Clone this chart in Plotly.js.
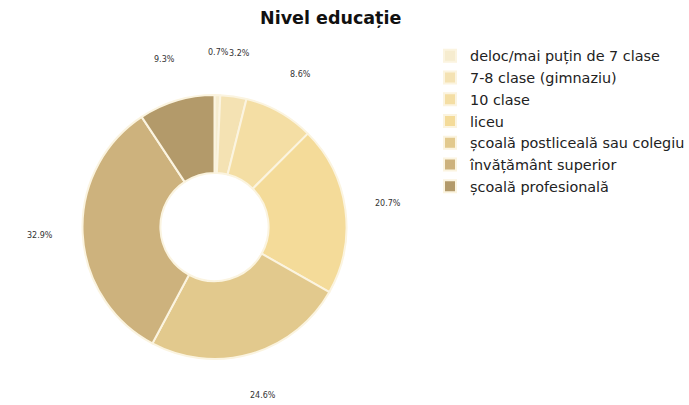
<!DOCTYPE html>
<html>
<head>
<meta charset="utf-8">
<script src="https://cdn.plot.ly/plotly-3.0.1.min.js"></script>
<style>html,body{margin:0;padding:0;background:#fff;}#chart{width:689px;height:405px;}</style>
</head>
<body>
<div id="chart"></div>
<script>
const categories = [
  "deloc/mai puțin de 7 clase",
  "7-8 clase (gimnaziu)",
  "10 clase",
  "liceu",
  "școală postliceală sau colegiu",
  "învățământ superior",
  "școală profesională"
];
const values = [0.7, 3.2, 8.6, 20.7, 24.6, 32.9, 9.3];
const colors = ["#F6ECCF", "#F4E2B3", "#F4DEA4", "#F4DB99", "#E2C98D", "#CDB27D", "#B39A6A"];

const W = 689, H = 405;
const cxPx = 214.5, cyPx = 227, R = 132, labelR = 175;
const domX = [(cxPx - R) / W, (cxPx + R) / W];
const domY = [(H - cyPx - R) / H, (H - cyPx + R) / H];

const total = values.reduce((a, b) => a + b, 0);
let cum = 0;
const annotations = values.map(v => {
  const mid = (cum + v / 2) / total * 2 * Math.PI;
  cum += v;
  return {
    xref: 'paper', yref: 'paper',
    x: (cxPx + labelR * Math.sin(mid)) / W,
    y: (H - cyPx + labelR * Math.cos(mid)) / H,
    text: v.toFixed(1) + '%',
    showarrow: false,
    xanchor: 'center', yanchor: 'middle',
    font: {family: 'DejaVu Sans', size: 8, color: '#333'}
  };
});

const data = [{
  type: 'pie',
  labels: categories,
  values: values,
  sort: false,
  direction: 'clockwise',
  rotation: 0,
  hole: 0.41,
  textinfo: 'none',
  marker: {colors: colors, line: {color: '#FBF4E0', width: 2}},
  domain: {x: domX, y: domY},
  hoverinfo: 'label+percent'
}];

const layout = {
  width: W, height: H,
  margin: {l: 0, r: 0, t: 0, b: 0, autoexpand: false},
  paper_bgcolor: '#fff',
  showlegend: true,
  title: {text: '<b>Nivel educație</b>', x: 0.48, xanchor: 'center', y: 1 - 18 / H, yanchor: 'middle',
          font: {family: 'DejaVu Sans', size: 17.5, color: '#111'}},
  legend: {x: 430 / W, y: 1 - 40 / H, xanchor: 'left', yanchor: 'top',
           font: {family: 'DejaVu Sans', size: 14.4, color: '#222'},
           tracegroupgap: 0, itemwidth: 30, bgcolor: 'rgba(0,0,0,0)'},
  annotations: annotations
};

Plotly.newPlot('chart', data, layout, {displayModeBar: false, staticPlot: true});
</script>
</body>
</html>
